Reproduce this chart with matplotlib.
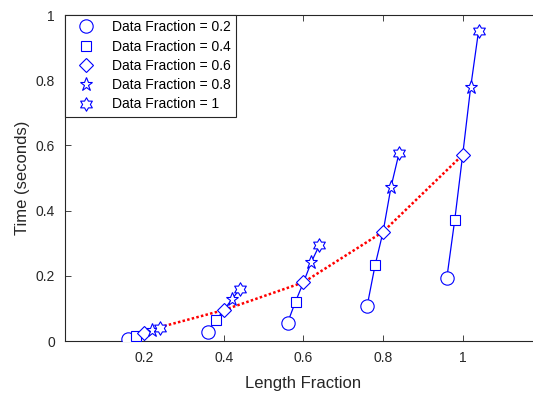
import numpy as np
import matplotlib
matplotlib.use('Agg')
import matplotlib.pyplot as plt
from matplotlib.path import Path

plt.rcParams['font.family'] = ['Liberation Sans', 'DejaVu Sans']

# length fraction groups and data fractions
length_fracs = [0.2, 0.4, 0.6, 0.8, 1.0]
data_fracs = [0.2, 0.4, 0.6, 0.8, 1]
# small side-by-side shift of each data fraction inside a group
dodge = [-0.04, -0.02, 0.0, 0.02, 0.04]

# time (seconds), one list per data fraction, in length_fracs order
time_df02 = [0.006, 0.029, 0.056, 0.108, 0.192]
time_df04 = [0.016, 0.064, 0.121, 0.233, 0.371]
time_df06 = [0.024, 0.095, 0.180, 0.335, 0.571]
time_df08 = [0.034, 0.128, 0.243, 0.473, 0.778]
time_df10 = [0.039, 0.159, 0.294, 0.576, 0.952]

# red dotted trend
trend_x = [0.25, 0.4, 0.6, 0.8, 1.0]
trend_y = [0.046, 0.095, 0.180, 0.335, 0.571]

times = np.array([time_df02, time_df04, time_df06, time_df08, time_df10])
xs = np.array(length_fracs)[None, :] + np.array(dodge)[:, None]

hexagram = Path.unit_regular_star(6, 0.577)
markers = ['o', 's', 'D', '*', hexagram]
msizes = [9.6, 7.7, 7.6, 9.8, 9.7]
blue = '#0000ff'
axcol = '#262626'

fig = plt.figure(figsize=(5.33, 3.95), dpi=100)
ax = fig.add_axes([0.1214, 0.1367, 0.896, 0.8253])

# lines joining the data fractions of one length group
for j in range(len(length_fracs)):
    ax.plot(xs[:, j], times[:, j], color=blue, lw=0.9, zorder=2)

ax.plot(trend_x, trend_y, color='red', lw=1.8, linestyle=(0, (1, 0.9)), zorder=3)

handles = []
for i, df in enumerate(data_fracs):
    h, = ax.plot(xs[i], times[i], linestyle='none', marker=markers[i],
                 ms=msizes[i], mfc='white', mec=blue, mew=0.8, zorder=4,
                 label='Data Fraction = %g' % df)
    handles.append(h)

ax.set_xlim(0, 1.2)
ax.set_ylim(0, 1)
ax.set_xticks([0.2, 0.4, 0.6, 0.8, 1.0])
ax.set_xticklabels(['0.2', '0.4', '0.6', '0.8', '1'])
ax.set_yticks([0, 0.2, 0.4, 0.6, 0.8, 1.0])
ax.set_yticklabels(['0', '0.2', '0.4', '0.6', '0.8', '1'])
ax.tick_params(direction='in', top=True, right=False, length=4, width=0.6,
               colors=axcol, labelsize=10, pad=7)
ax.spines['right'].set_visible(False)
for s in ax.spines.values():
    s.set_color(axcol)
    s.set_linewidth(0.8)

ax.set_xlabel('Length Fraction', fontsize=12, color=axcol, labelpad=8)
ax.set_ylabel('Time (seconds)', fontsize=12, color=axcol, labelpad=4)

leg = ax.legend(handles=handles, loc='upper left', borderaxespad=0,
                fancybox=False, edgecolor=axcol, framealpha=1, fontsize=10,
                handlelength=2.3, handletextpad=0.75, labelspacing=0.38,
                borderpad=0.38)
leg.get_frame().set_linewidth(0.8)

fig.savefig('out.png', dpi=100)
